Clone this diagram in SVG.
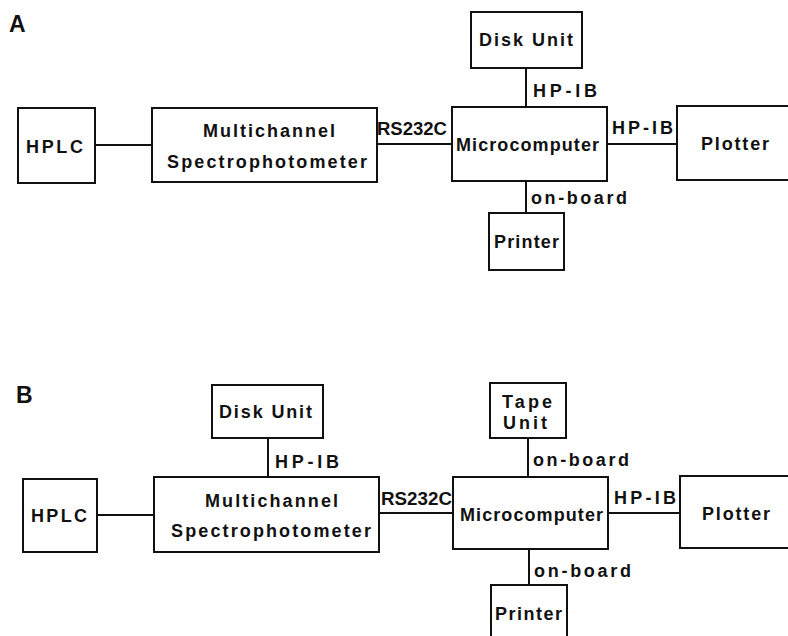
<svg xmlns="http://www.w3.org/2000/svg" width="788" height="636" viewBox="0 0 788 636">
<style>
rect{fill:#fff;stroke:#111;stroke-width:2}
line{stroke:#111;stroke-width:2}
text{font-family:"Liberation Sans",Arial,sans-serif;font-weight:bold;font-size:18px;fill:#111}
.lbl{font-size:23px}
</style>
<rect x="0" y="0" width="788" height="636" style="stroke:none"/>
<text class="lbl" x="9" y="32">A</text>
<g id="connectors-a">
<line x1="95" y1="145" x2="152" y2="145"/>
<line x1="377" y1="144" x2="452" y2="144"/>
<line x1="526" y1="68" x2="526" y2="107"/>
<line x1="607" y1="144" x2="677" y2="144"/>
<line x1="526" y1="181" x2="526" y2="213"/>
<text x="377" y="135" textLength="70" lengthAdjust="spacingAndGlyphs">RS232C</text>
<text x="533" y="97" textLength="64" lengthAdjust="spacing">HP-IB</text>
<text x="612" y="134" textLength="61" lengthAdjust="spacing">HP-IB</text>
<text x="531" y="204" textLength="96" lengthAdjust="spacing">on-board</text>
</g>
<g id="a-hplc"><rect x="18" y="108" width="77" height="75"/><text x="26" y="153" textLength="57" lengthAdjust="spacing">HPLC</text></g>
<g id="a-spectro"><rect x="152" y="108" width="225" height="74"/><text x="203" y="137" textLength="132" lengthAdjust="spacing">Multichannel</text><text x="167" y="168" textLength="200" lengthAdjust="spacing">Spectrophotometer</text></g>
<g id="a-micro"><rect x="452" y="107" width="155" height="74"/><text x="456" y="151" textLength="143" lengthAdjust="spacing">Microcomputer</text></g>
<g id="a-disk"><rect x="471" y="12" width="111" height="56"/><text x="479" y="46" textLength="94" lengthAdjust="spacing">Disk Unit</text></g>
<g id="a-plotter"><rect x="677" y="106" width="130" height="74"/><text x="701" y="150" textLength="68" lengthAdjust="spacing">Plotter</text></g>
<g id="a-printer"><rect x="489" y="213" width="75" height="57"/><text x="494" y="248" textLength="65" lengthAdjust="spacing">Printer</text></g>

<text class="lbl" x="16" y="403">B</text>
<g id="connectors-b">
<line x1="268" y1="438" x2="268" y2="477"/>
<line x1="97" y1="515" x2="154" y2="515"/>
<line x1="379" y1="513" x2="453" y2="513"/>
<line x1="528" y1="438" x2="528" y2="477"/>
<line x1="608" y1="513" x2="680" y2="513"/>
<line x1="529" y1="549" x2="529" y2="585"/>
<text x="275" y="468" textLength="64" lengthAdjust="spacing">HP-IB</text>
<text x="381" y="505" textLength="71" lengthAdjust="spacingAndGlyphs">RS232C</text>
<text x="533" y="466" textLength="96" lengthAdjust="spacing">on-board</text>
<text x="614" y="504" textLength="62" lengthAdjust="spacing">HP-IB</text>
<text x="534" y="577" textLength="97" lengthAdjust="spacing">on-board</text>
</g>
<g id="b-disk"><rect x="212" y="385" width="111" height="53"/><text x="219" y="418" textLength="93" lengthAdjust="spacing">Disk Unit</text></g>
<g id="b-hplc"><rect x="23" y="479" width="74" height="73"/><text x="31" y="522" textLength="56" lengthAdjust="spacing">HPLC</text></g>
<g id="b-spectro"><rect x="154" y="477" width="225" height="75"/><text x="205" y="507" textLength="133" lengthAdjust="spacing">Multichannel</text><text x="171" y="537" textLength="200" lengthAdjust="spacing">Spectrophotometer</text></g>
<g id="b-micro"><rect x="453" y="477" width="155" height="72"/><text x="460" y="521" textLength="143" lengthAdjust="spacing">Microcomputer</text></g>
<g id="b-tape"><rect x="490" y="383" width="76" height="55"/><text x="502" y="408" textLength="50" lengthAdjust="spacing">Tape</text><text x="503" y="429" textLength="44" lengthAdjust="spacing">Unit</text></g>
<g id="b-plotter"><rect x="680" y="476" width="130" height="72"/><text x="702" y="520" textLength="68" lengthAdjust="spacing">Plotter</text></g>
<g id="b-printer"><rect x="491" y="585" width="76" height="70"/><text x="495" y="620" textLength="67" lengthAdjust="spacing">Printer</text></g>
</svg>
